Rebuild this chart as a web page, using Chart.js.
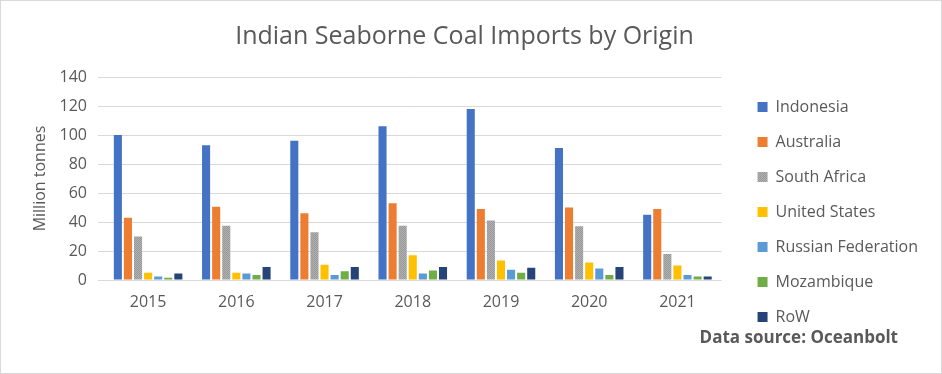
<!DOCTYPE html>
<html>
<head>
<meta charset="utf-8">
<script src="https://cdn.jsdelivr.net/npm/chart.js@4"></script>
<style>
  html, body { margin: 0; padding: 0; background: #fff; }
  #wrap { width: 942px; height: 374px; box-sizing: border-box; border: 1px solid #d9d9d9; }
</style>
</head>
<body>
<div id="wrap"><canvas id="coalChart" width="940" height="372"></canvas></div>
<script>
// Dados (milhões de toneladas)
const years = ['2015', '2016', '2017', '2018', '2019', '2020', '2021'];
const indonesia = [100, 93, 96, 106, 118, 91, 45];
const australia = [43, 50.5, 46, 53, 49, 50, 49];
const southAfrica = [30, 37.5, 33, 37.5, 41, 37, 18];
const unitedStates = [5, 5, 10.5, 17, 13.5, 12, 10];
const russia = [2.5, 4.5, 3.5, 4.5, 7, 8, 3.5];
const mozambique = [1.5, 3.5, 6, 6.5, 5, 3.5, 2.5];
const row = [4.5, 9, 9, 9, 8.5, 9, 2.5];
const yTicks = [0, 20, 40, 60, 80, 100, 120, 140];

const textColor = '#595959';
const fontFamily = "'Open Sans', 'DejaVu Sans', sans-serif";

// Padrão pontilhado cinza para a África do Sul
function grayPattern() {
    const c = document.createElement('canvas');
    c.width = 2; c.height = 2;
    const g = c.getContext('2d');
    g.fillStyle = '#b2b2b2'; g.fillRect(0, 0, 2, 2);
    g.fillStyle = '#979797'; g.fillRect(0, 0, 1, 1); g.fillRect(1, 1, 1, 1);
    return g.createPattern(c, 'repeat');
}

// Texto da fonte dos dados no canto inferior direito
const sourceNote = {
    id: 'sourceNote',
    afterDraw(chart) {
        const c = chart.ctx;
        c.save();
        c.font = "bold 17px " + fontFamily;
        c.fillStyle = textColor;
        c.textAlign = 'right';
        c.textBaseline = 'middle';
        c.fillText('Data source: Oceanbolt', 897, 337);
        c.restore();
    }
};

const ctx = document.getElementById('coalChart').getContext('2d');

// largura do maior texto da legenda, para deixar os quadrados em x = 759
ctx.font = "16px " + fontFamily;
const longest = ctx.measureText('Russian Federation').width;
const rightPad = Math.max(2, Math.round(940 - (759 + 10 + 8 + longest) - 8));

const chart = new Chart(ctx, {
    type: 'bar',
    data: {
        labels: years,
        datasets: [
            { label: 'Indonesia', data: indonesia, backgroundColor: '#4472C4' },
            { label: 'Australia', data: australia, backgroundColor: '#ED7D31' },
            { label: 'South Africa', data: southAfrica, backgroundColor: grayPattern() },
            { label: 'United States', data: unitedStates, backgroundColor: '#FFC000' },
            { label: 'Russian Federation', data: russia, backgroundColor: '#5B9BD5' },
            { label: 'Mozambique', data: mozambique, backgroundColor: '#70AD47' },
            { label: 'RoW', data: row, backgroundColor: '#264478' }
        ]
    },
    options: {
        responsive: false,
        animation: false,
        events: [],
        categoryPercentage: 0.8,
        barPercentage: 0.8,
        layout: { padding: { left: 0, right: rightPad, top: 0, bottom: 29 } },
        plugins: {
            title: {
                display: true,
                text: 'Indian Seaborne Coal Imports by Origin',
                color: textColor,
                font: { family: fontFamily, size: 25, weight: 'normal' },
                padding: { top: 21, bottom: 25 }
            },
            legend: {
                position: 'right',
                align: 'end',
                maxWidth: 300,
                labels: {
                    color: textColor,
                    font: { family: fontFamily, size: 16 },
                    boxWidth: 10,
                    boxHeight: 10,
                    padding: 19
                }
            },
            tooltip: { enabled: false }
        },
        scales: {
            x: {
                grid: { display: false, drawTicks: false },
                border: { display: false },
                ticks: { color: textColor, font: { family: fontFamily, size: 16 }, padding: 13 },
                afterFit(scale) { scale.height = 64; }
            },
            y: {
                min: 0,
                max: 140,
                afterBuildTicks(scale) { scale.ticks = yTicks.map(v => ({ value: v })); },
                grid: { color: '#d9d9d9', lineWidth: 1, tickLength: 6 },
                border: { display: false },
                ticks: { color: textColor, font: { family: fontFamily, size: 16 }, padding: 11 },
                title: {
                    display: true,
                    text: 'Million tonnes',
                    color: textColor,
                    font: { family: fontFamily, size: 16 },
                    padding: { top: 30, bottom: 0 }
                },
                afterFit(scale) { scale.width = 103; }
            },
            spacer: {
                position: 'right',
                type: 'linear',
                display: true,
                grid: { display: false },
                border: { display: false },
                ticks: { display: false },
                afterFit(scale) { scale.width = 17; }
            }
        }
    },
    plugins: [sourceNote]
});
</script>
</body>
</html>
